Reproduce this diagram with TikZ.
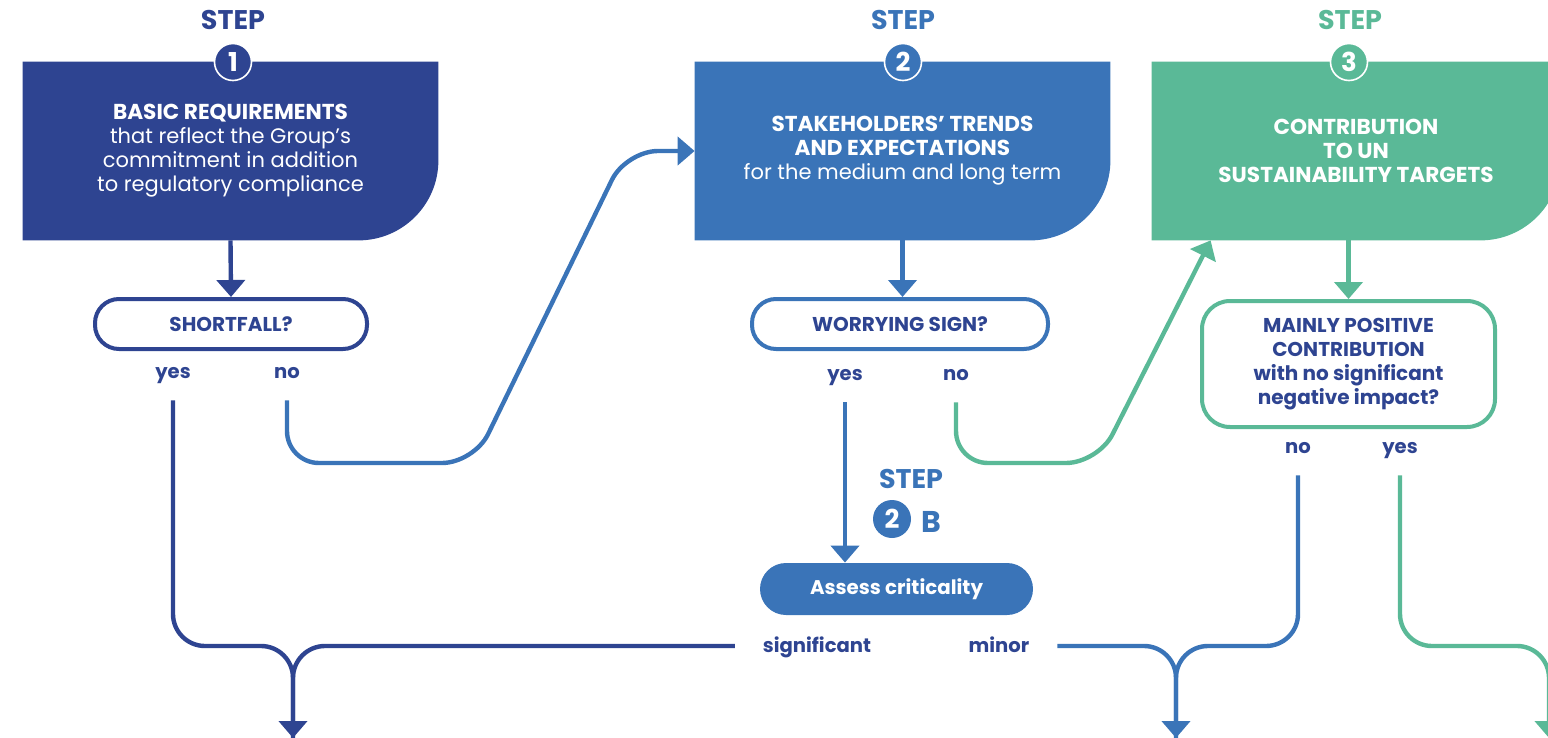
\documentclass[tikz,border=0pt]{standalone}
\usepackage{fontspec}
\setmainfont{Poppins}
\usetikzlibrary{shapes,arrows.meta,backgrounds}
\definecolor{stepA}{HTML}{2E4491}
\definecolor{stepB}{HTML}{3A74B8}
\definecolor{stepC}{HTML}{5AB997}
\newcommand{\boxtitle}[1]{{\bfseries\fontsize{10.8}{12}\selectfont #1}}

\tikzset{
  steplabel/.style={font=\bfseries\fontsize{13.5}{13.5}\selectfont},
  stepnum/.style={circle,minimum size=18.5pt,inner sep=0pt,text=white,font=\bfseries\fontsize{13}{13}\selectfont},
  bigbox/.style={minimum width=207.5pt,minimum height=89pt,inner sep=0pt,text=white,align=center,font=\fontsize{10.5}{12}\selectfont},
  question/.style={draw,line width=2pt,fill=white,rounded corners=12pt,inner sep=0pt,text=stepA,align=center,font=\bfseries\fontsize{10}{12}\selectfont},
  answer/.style={text=stepA,font=\bfseries\fontsize{9.8}{10}\selectfont,text height=1.5ex,text depth=.4ex,inner sep=0pt,outer sep=9pt},
  flow/.style={line width=2.2pt,rounded corners=16pt},
  flowtip/.style={-{Triangle[width=14pt,length=8.5pt]}},
}

\begin{document}
\begin{tikzpicture}[x=0.5pt,y=-0.5pt]
\useasboundingbox (0,0) rectangle (1548,738);

% step boxes
\node[bigbox] (b1) at (230.5,151) {\boxtitle{BASIC REQUIREMENTS}\\that reflect the Group’s\\commitment in addition\\to regulatory compliance};
\node[bigbox] (b2) at (902.5,151) {\boxtitle{STAKEHOLDERS’ TRENDS}\\\boxtitle{AND EXPECTATIONS}\\for the medium and long term};
\node[bigbox,minimum width=204pt] (b3) at (1356,151) {\boxtitle{CONTRIBUTION}\\\boxtitle{TO UN}\\\boxtitle{SUSTAINABILITY TARGETS}};
\begin{scope}[on background layer]
\fill[stepA] (b1.north west) -- (b1.north east) -- ([yshift=40pt]b1.south east) arc[start angle=0,end angle=-90,radius=40pt] -- (b1.south west) -- cycle;
\fill[stepB] (b2.north west) -- (b2.north east) -- ([yshift=40pt]b2.south east) arc[start angle=0,end angle=-90,radius=40pt] -- (b2.south west) -- cycle;
\fill[stepC] (b3.north west) -- (b3.north east) -- ([yshift=40pt]b3.south east) arc[start angle=0,end angle=-90,radius=40pt] -- (b3.south west) -- cycle;
\end{scope}

% step headings
\node[steplabel,text=stepA] (s1) at (233,20) {STEP};
\node[steplabel,text=stepB] (s2) at (903,20) {STEP};
\node[steplabel,text=stepC] (s3) at (1350,20) {STEP};
\node[stepnum,fill=stepA,draw=white,line width=0.8pt] (c1) at (233,62) {1};
\node[stepnum,fill=stepB,draw=white,line width=0.8pt] (c2) at (903,62) {2};
\node[stepnum,fill=stepC,draw=white,line width=0.8pt] (c3) at (1349,62) {3};

% questions
\node[question,draw=stepA,minimum width=136pt,minimum height=25pt] (d1) at (231,324) {SHORTFALL?};
\node[question,draw=stepB,minimum width=148pt,minimum height=25pt] (d2) at (900,324) {WORRYING SIGN?};
\node[question,draw=stepC,minimum width=146.5pt,minimum height=63pt,rounded corners=14pt] (d3) at (1348.5,364) {MAINLY POSITIVE\\CONTRIBUTION\\with no significant\\negative impact?};

% answers
\node[answer] (yes1) at (173,372) {yes};
\node[answer] (no1) at (287,372) {no};
\node[answer] (yes2) at (845,374) {yes};
\node[answer] (no2) at (956,374) {no};
\node[answer] (no3) at (1298,447) {no};
\node[answer] (yes3) at (1400,447) {yes};

% step 2B
\node[steplabel,text=stepB] (s2b) at (911,479) {STEP};
\node[stepnum,fill=stepB,minimum size=19pt] (c2b) at (892,519) {2};
\node[steplabel,text=stepB,font=\bfseries\fontsize{15}{15}\selectfont] (l2b) at (931,522) {B};
\node[fill=stepB,rounded corners=13pt,minimum width=136.5pt,minimum height=26pt,inner sep=0pt,text=white,font=\bfseries\fontsize{9.9}{10}\selectfont] (crit) at (896.5,589) {Assess criticality};
\node[answer,outer sep=0pt] (sig) at (817,646) {significant};
\node[answer,outer sep=0pt] (minor) at (999,646) {minor};

% connectors
\draw[flow,stepA,flowtip] (b1.south) -- (d1.north);
\draw[flow,stepB,flowtip] (b2.south) -- (b2.south |- d2.north);
\draw[flow,stepC,flowtip] (d3.north |- b3.south) -- (d3.north);
\draw[flow,stepB,flowtip] (yes2.south) -- (yes2.south |- crit.north);

\draw[flow,stepB,flowtip] (no1.south) -- (287,463) -- (474,463) -- (626,151) -- (b2.west);
\draw[flow,stepC,flowtip] (no2.south) -- (956,463) -- (1098,463) -- ([xshift=29.5pt]b3.south west);

\coordinate (out1) at (293,738);
\coordinate (out2) at (1176,738);
\coordinate (out3) at (1549,738);
\draw[flow,stepA,flowtip] (yes1.south) -- (yes1.south |- sig.west) -- (out1 |- sig.west) -- (out1);
\draw[flow,stepA,shorten <=14pt] (sig.west) -- (out1 |- sig.west) -- (out1);
\draw[flow,stepB,flowtip] (no3.south) -- (no3.south |- minor.east) -- (out2 |- minor.east) -- (out2);
\draw[flow,stepB,shorten <=14pt] (minor.east) -- (out2 |- minor.east) -- (out2);
\draw[flow,stepC,flowtip] (yes3.south) -- (yes3.south |- minor.east) -- (out3 |- minor.east) -- (out3);
\end{tikzpicture}
\end{document}
